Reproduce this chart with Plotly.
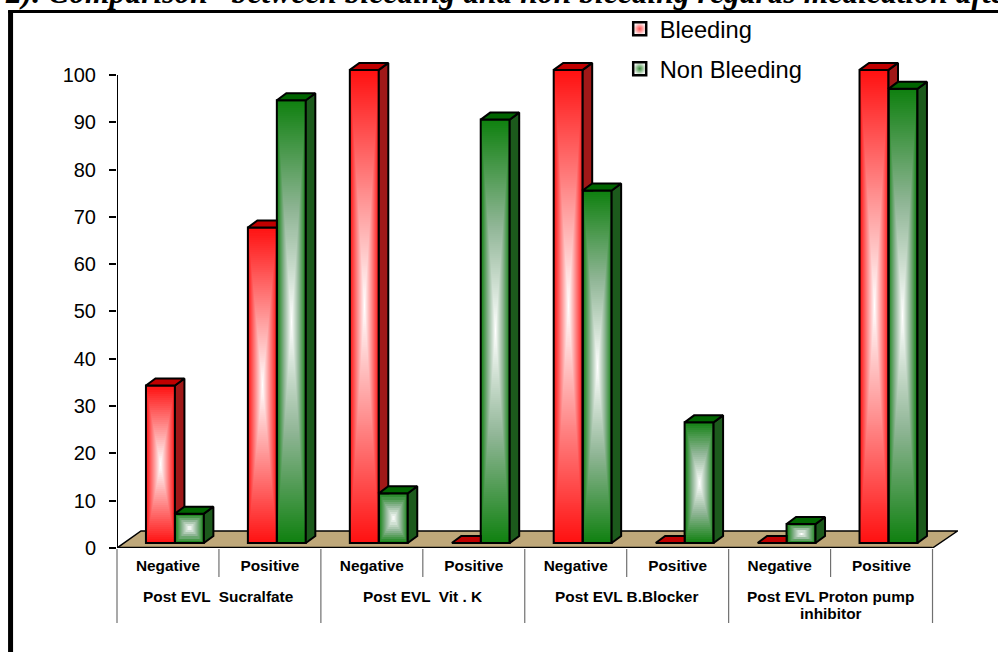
import numpy as np
import plotly.graph_objects as go

# ---- data ----
categories = ["Negative", "Positive"] * 4
groups = ["Post EVL  Sucralfate", "Post EVL  Vit . K", "Post EVL B.Blocker",
          "Post EVL Proton pump<br>inhibitor"]
bleeding = [33.3, 66.7, 100, 0, 100, 0, 0, 100]
non_bleeding = [6.2, 93.6, 10.5, 89.5, 74.5, 25.5, 4, 96]
y_ticks = list(range(0, 101, 10))
title_text = "2). Comparison   between bleeding and non bleeding regards medication after EVL"

# ---- geometry ----
W, H = 998, 652
X0, Y0 = 117, 548            # pixel of category 0, value 0
PX_X, PX_Y = 102.0, 4.73     # pixels per category / per value unit
XMAX, YMAX = 8.25, 104.0
BASE = 5 / PX_Y
BW = 29 / PX_X
RED_OFF, GREEN_OFF = -0.216, 0.068
DX, DY = 9.5 / PX_X, 7 / PX_Y
plot_w, plot_h = XMAX * PX_X, YMAX * PX_Y


def paper_x(px):
    return (px - X0) / plot_w


def paper_y(py):
    return (Y0 - py) / plot_h


fig = go.Figure()


def gradient(xl, top, scale):
    nx, ny = 29, max(3, int((top - BASE) * PX_Y / 2))
    xs = xl + (np.arange(nx) + 0.5) / nx * BW
    ys = BASE + (np.arange(ny) + 0.5) / ny * (top - BASE)
    u = np.abs(2 * (np.arange(nx) + 0.5) / nx - 1)
    v = np.abs(2 * (np.arange(ny) + 0.5) / ny - 1)
    z = np.maximum(u[None, :], v[:, None])
    fig.add_trace(go.Heatmap(x=xs, y=ys, z=z, zmin=0, zmax=1, showscale=False,
                             hoverinfo="skip", colorscale=scale))


def poly(xs, ys, colour):
    fig.add_trace(go.Scatter(x=xs, y=ys, mode="lines", fill="toself", fillcolor=colour,
                             line=dict(color="black", width=2), cliponaxis=False,
                             hoverinfo="skip", showlegend=False))


RED_SCALE = [[0, "#ffffff"], [1, "#ff1010"]]
GREEN_SCALE = [[0, "#ffffff"], [0.5, "#8fb595"], [1, "#0f800f"]]

centers = [i + 0.5 for i in range(8)]
for c, r, g in zip(centers, bleeding, non_bleeding):
    rl, gl = c + RED_OFF, c + GREEN_OFF
    if r > 0:
        gradient(rl, r + BASE, RED_SCALE)
    if g > 0:
        gradient(gl, g + BASE, GREEN_SCALE)

for name, vals, off in (("Bleeding", bleeding, RED_OFF), ("Non Bleeding", non_bleeding, GREEN_OFF)):
    nz = [v if v > 0 else None for v in vals]
    fig.add_trace(go.Bar(x=centers, y=nz, base=BASE, width=BW, offset=off, name=name,
                         marker=dict(color="rgba(0,0,0,0)", line=dict(color="black", width=2)),
                         cliponaxis=False, showlegend=False))

for c, r, g in zip(centers, bleeding, non_bleeding):
    rl, gl = c + RED_OFF, c + GREEN_OFF
    rr, gr = rl + BW, gl + BW
    rt, gt = r + BASE, g + BASE
    # red side, hidden by the green bar up to its top
    if gt < rt + DY:
        low = max(gt, BASE)
        hi_r = max(rt + DY, low)
        hi_l = max(rt, low)
        poly([rr, rr, rr + DX, rr + DX, rr], [low, hi_l, hi_r, max(low, BASE + DY), low], "#a01818")
        poly([rl, rr, rr + DX, rl + DX, rl], [rt, rt, rt + DY, rt + DY, rt], "#c00000")
    else:
        poly([rl, rr, rr, rl + DX, rl], [rt, rt, rt + DY, rt + DY, rt], "#c00000")
    # green side and top
    poly([gr, gr, gr + DX, gr + DX, gr], [BASE, gt, gt + DY, BASE + DY, BASE], "#1c5a1c")
    poly([gl, gr, gr + DX, gl + DX, gl], [gt, gt, gt + DY, gt + DY, gt], "#006400")

# legend
for name, col, grp in (("Bleeding", "#ff5050", "a"), ("Non Bleeding", "#3a8a3a", "b")):
    fig.add_trace(go.Scatter(x=[None], y=[None], mode="markers", name=name, legendgroup=grp,
                             marker=dict(symbol="square", size=13, color="white",
                                         gradient=dict(type="radial", color=col),
                                         line=dict(color="black", width=2.5))))

shapes = [
    # floor
    dict(type="path", layer="below", xref="x", yref="y",
         path=f"M 0 0 L {24/PX_X} {17/PX_Y} L {8+25/PX_X} {17/PX_Y} L 8 0 Z",
         fillcolor="#bfa87a", line=dict(color="black", width=1.5)),
    # axis lines
    dict(type="line", xref="x", yref="y", x0=0, x1=8, y0=0, y1=0, line=dict(color="black", width=2.5)),
    dict(type="line", xref="x", yref="y", x0=0, x1=0, y0=0, y1=100, line=dict(color="black", width=2)),
    # frame
    dict(type="line", xref="paper", yref="paper", x0=paper_x(10.5), x1=paper_x(10.5),
         y0=paper_y(11), y1=paper_y(660), line=dict(color="black", width=5)),
    dict(type="line", xref="paper", yref="paper", x0=paper_x(8), x1=paper_x(1000),
         y0=paper_y(11.5), y1=paper_y(11.5), line=dict(color="black", width=3)),
]
for i in range(9):
    full = i % 2 == 0
    shapes.append(dict(type="line", xref="paper", yref="paper",
                       x0=paper_x(X0 + i * PX_X), x1=paper_x(X0 + i * PX_X),
                       y0=paper_y(549), y1=paper_y(623 if full else 577),
                       line=dict(color="#707070", width=1.2)))

annotations = [dict(text=title_text, xref="paper", yref="paper", x=paper_x(3), y=paper_y(12.5),
                    xanchor="left", yanchor="bottom", showarrow=False, align="left",
                    font=dict(family="Liberation Serif", size=31.6, color="black", weight="bold", style="italic"))]
GROUP_FONT = dict(family="Liberation Sans", size=15.4, color="black", weight="bold")
for k, g in enumerate(groups):
    for j, line in enumerate(g.split("<br>")):
        annotations.append(dict(text=line, xref="paper", yref="paper",
                                x=paper_x(X0 + (2 * k + 1) * PX_X), y=paper_y(596 + 17 * j),
                                xanchor="center", yanchor="middle", showarrow=False, font=GROUP_FONT))

fig.update_layout(
    width=W, height=H, autosize=False, plot_bgcolor="white", paper_bgcolor="white",
    margin=dict(l=X0, r=W - X0 - plot_w, t=Y0 - plot_h, b=H - Y0, pad=0, autoexpand=False),
    barmode="overlay", font=dict(family="Liberation Sans", color="black"),
    shapes=shapes, annotations=annotations,
    legend=dict(x=paper_x(620), y=paper_y(7), xanchor="left", yanchor="top", tracegroupgap=6,
                font=dict(size=23.7, family="Liberation Sans", color="black"), bgcolor="rgba(0,0,0,0)"),
    xaxis=dict(range=[0, XMAX], tickmode="array", tickvals=centers, ticktext=categories,
               showgrid=False, zeroline=False, showline=False, ticks="", ticklen=0,
               ticklabelstandoff=7,
               tickfont=dict(size=15.4, family="Liberation Sans", color="black", weight="bold")),
    yaxis=dict(range=[0, YMAX], tickmode="array", tickvals=y_ticks, showgrid=False, zeroline=False,
               showline=False, ticks="outside", ticklen=7, tickwidth=1.5, tickcolor="black",
               ticklabelstandoff=9, tickfont=dict(size=20, family="Liberation Sans", color="black")),
)
fig.write_html("out.html", config={"displayModeBar": False},
               post_script="document.body.style.margin='0';document.body.style.overflow='hidden';")
